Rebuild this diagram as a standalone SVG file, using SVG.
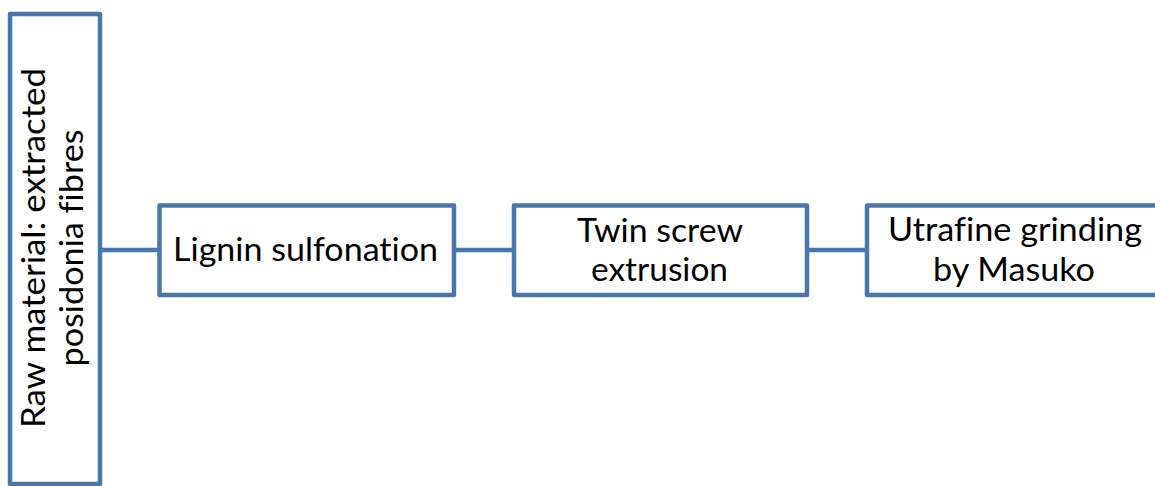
<svg xmlns="http://www.w3.org/2000/svg" width="1155" height="486" viewBox="0 0 1155 486">
<style>
.box{fill:#ffffff;stroke:#4A76AE;stroke-width:4.5;stroke-linejoin:round}
.conn{stroke:#4A76AE;stroke-width:4.5;fill:none}
.t{font-family:Lato,"Open Sans","Liberation Sans",sans-serif;font-size:33px;fill:#000000;text-anchor:middle;font-variant-ligatures:none}
</style>
<rect width="1155" height="486" fill="#ffffff"/>
<g id="connectors">
<line class="conn" x1="100" y1="250" x2="159" y2="250"/>
<line class="conn" x1="454" y1="250" x2="514" y2="250"/>
<line class="conn" x1="807" y1="250" x2="867" y2="250"/>
</g>
<g id="raw">
<rect class="box" x="10" y="14" width="90" height="470"/>
<text class="t" transform="translate(45,248) rotate(-90)" textLength="360" lengthAdjust="spacingAndGlyphs">Raw material: extracted</text>
<text class="t" transform="translate(83,248) rotate(-90)" textLength="237" lengthAdjust="spacingAndGlyphs">posidonia fibres</text>
</g>
<g id="lignin">
<rect class="box" x="159.5" y="205.5" width="294.5" height="89.5"/>
<text class="t" x="305.5" y="261" textLength="265" lengthAdjust="spacingAndGlyphs">Lignin sulfonation</text>
</g>
<g id="twin">
<rect class="box" x="514" y="205.5" width="293" height="89.5"/>
<text class="t" x="660" y="242" textLength="166" lengthAdjust="spacingAndGlyphs">Twin screw</text>
<text class="t" x="659.5" y="281" textLength="137" lengthAdjust="spacingAndGlyphs">extrusion</text>
</g>
<g id="ultrafine">
<rect class="box" x="867" y="205.5" width="294" height="89.5"/>
<text class="t" x="1015" y="241" textLength="254" lengthAdjust="spacingAndGlyphs">Utrafine grinding</text>
<text class="t" x="1014" y="281" textLength="162" lengthAdjust="spacingAndGlyphs">by Masuko</text>
</g>
</svg>
